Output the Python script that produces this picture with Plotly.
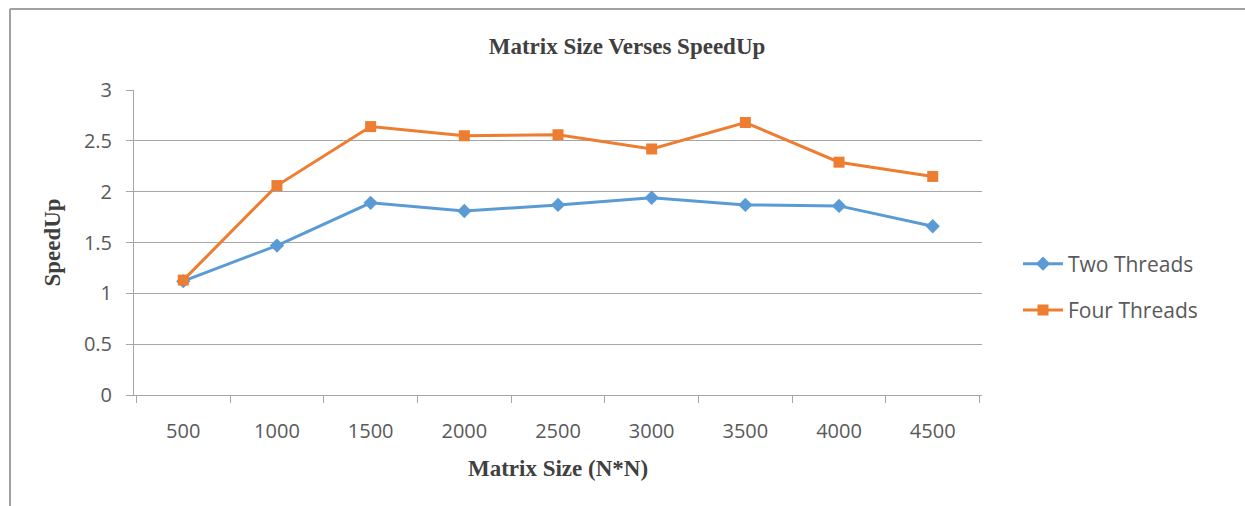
import plotly.graph_objects as go

sizes = ["500", "1000", "1500", "2000", "2500", "3000", "3500", "4000", "4500"]
two_threads = [1.12, 1.47, 1.89, 1.81, 1.87, 1.94, 1.87, 1.86, 1.66]
four_threads = [1.13, 2.06, 2.64, 2.55, 2.56, 2.42, 2.68, 2.29, 2.15]

W, H = 1245, 506
L, R, T, B = 134, 982, 90, 395

fig = go.Figure()
fig.add_trace(go.Scatter(x=sizes, y=two_threads, name="Two Threads", mode="lines+markers",
                         line=dict(color="#5B9BD5", width=3),
                         marker=dict(symbol="diamond", size=11, color="#5B9BD5"),
                         legendgroup="a"))
fig.add_trace(go.Scatter(x=sizes, y=four_threads, name="Four Threads", mode="lines+markers",
                         line=dict(color="#ED7D31", width=3),
                         marker=dict(symbol="square", size=11, color="#ED7D31"),
                         legendgroup="b"))

px = lambda x: (x - L) / (R - L)
py = lambda y: (B - y) / (B - T)

tickfont = dict(family="Open Sans", size=20, color="#595959")
legfont = dict(family="Open Sans", size=21, color="#595959")
serif = dict(family="Liberation Serif", size=23, color="#404040")

fig.update_layout(
    width=W, height=H,
    margin=dict(l=L, r=W - R, t=T, b=H - B),
    paper_bgcolor="white", plot_bgcolor="white",
    title=dict(text="<b>Matrix Size Verses SpeedUp</b>", x=627 / W, xanchor="center",
               y=1 - 46 / H, yanchor="middle", font=serif),
    xaxis=dict(type="category", tickson="boundaries", ticks="outside", ticklen=7,
               tickcolor="#a6a6a6", showline=True, linecolor="#a6a6a6", linewidth=1,
               showgrid=False, ticklabelstandoff=18,
               tickfont=tickfont,
               title=dict(text="<b>Matrix Size (N*N)</b>", standoff=16, font=serif)),
    yaxis=dict(range=[0, 3], dtick=0.5, ticks="outside", ticklen=7, tickcolor="#a6a6a6",
               showline=True, linecolor="#a6a6a6", linewidth=1,
               showgrid=True, gridcolor="#a6a6a6", gridwidth=1, zeroline=False,
               ticklabelstandoff=10,
               tickfont=tickfont,
               title=dict(text="<b>SpeedUp</b>", standoff=16, font=serif)),
    legend=dict(x=px(1018), xanchor="left", y=py(287), yanchor="middle",
                font=legfont,
                traceorder="grouped", tracegroupgap=16, itemwidth=40,
                bgcolor="rgba(0,0,0,0)"),
    shapes=[
        dict(type="line", xref="paper", yref="paper", x0=px(10), x1=px(W), y0=py(9), y1=py(9),
             line=dict(color="#a0a0a0", width=2)),
        dict(type="line", xref="paper", yref="paper", x0=px(10), x1=px(10), y0=py(9), y1=py(H),
             line=dict(color="#a0a0a0", width=2)),
    ],
)

fig.write_html("out.html", config={"displayModeBar": False},
               post_script="document.body.style.margin='0';document.body.style.overflow='hidden';")
